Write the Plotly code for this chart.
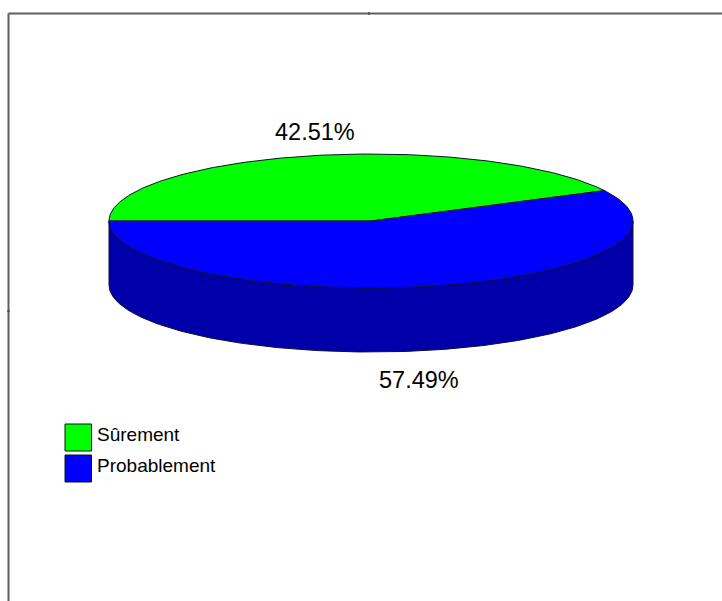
import numpy as np
import plotly.graph_objects as go

categories = ["Sûrement", "Probablement"]
values = [42.51, 57.49]
labels = ["42.51%", "57.49%"]
top_colors = ["#00ff00", "#0000ff"]
side_colors = ["#00aa00", "#0000aa"]

W, H = 722, 601
CX, CY, RX, RY, DEPTH = 371, 221, 262, 67, 64
START = 180.0  # first slice begins at the left, runs clockwise


def ellipse(a_from, a_to, dy=0.0, n=200):
    t = np.radians(np.linspace(a_from, a_to, n))
    return CX + RX * np.cos(t), CY + dy - RY * np.sin(t)


fig = go.Figure()
edge = dict(color="#101030", width=1)

# Slice angles from the values
total = sum(values)
angles = [START]
for v in values:
    angles.append(angles[-1] - 360.0 * v / total)

# Side wall: visible (front) part of each slice
for i in range(len(values)):
    hi, lo = angles[i], angles[i + 1]
    for k in (0, 360):
        a0, a1 = min(hi, 360 - k), max(lo, 180 - k)
        if a0 <= a1:
            continue
        x1, y1 = ellipse(a0, a1)
        x2, y2 = ellipse(a1, a0, DEPTH)
        fig.add_trace(go.Scatter(
            x=np.r_[x1, x2, x1[0]], y=np.r_[y1, y2, y1[0]], mode="lines",
            fill="toself", fillcolor=side_colors[i], line=edge,
            hoverinfo="skip", showlegend=False))

# Top faces
for i in range(len(values)):
    x, y = ellipse(angles[i], angles[i + 1])
    fig.add_trace(go.Scatter(
        x=np.r_[CX, x, CX], y=np.r_[CY, y, CY], mode="lines",
        fill="toself", fillcolor=top_colors[i], line=edge,
        hoverinfo="skip", showlegend=False))

# Percentage labels
label_pos = [(315, 132), (419, 380)]
for (lx, ly), t in zip(label_pos, labels):
    fig.add_annotation(x=lx, y=ly, text=t, showarrow=False,
                       font=dict(family="Liberation Sans", size=23.5, color="#000000"))

# Legend
legend_y = [437.5, 468.5]
for yy, name, col in zip(legend_y, categories, top_colors):
    fig.add_shape(type="rect", x0=65, x1=91.5, y0=yy - 13.5, y1=yy + 13.5,
                  fillcolor=col, line=dict(color="#002008", width=1))
    fig.add_annotation(x=94.5, y=yy - 3.5, text=name, showarrow=False, xanchor="left",
                       font=dict(family="Liberation Sans", size=19, color="#000000"))

# Frame (open at the right and bottom, running off the page)
frame = dict(color="#5f5f5f", width=2)
fig.add_shape(type="line", x0=8.5, x1=W, y0=13.5, y1=13.5, line=frame)
fig.add_shape(type="line", x0=8.5, x1=8.5, y0=13.5, y1=H, line=frame)
fig.add_shape(type="line", x0=369, x1=369, y0=12, y1=15, line=dict(color="#333333", width=1))
fig.add_shape(type="line", x0=7, x1=10, y0=311, y1=311, line=dict(color="#333333", width=1))

fig.update_layout(
    width=W, height=H, margin=dict(l=0, r=0, t=0, b=0),
    paper_bgcolor="white", plot_bgcolor="white", showlegend=False,
    xaxis=dict(range=[0, W], visible=False, fixedrange=True),
    yaxis=dict(range=[H, 0], visible=False, fixedrange=True),
)
fig.write_html("out.html", config={"displayModeBar": False},
               post_script="document.body.style.margin='0';document.body.style.overflow='hidden';")
